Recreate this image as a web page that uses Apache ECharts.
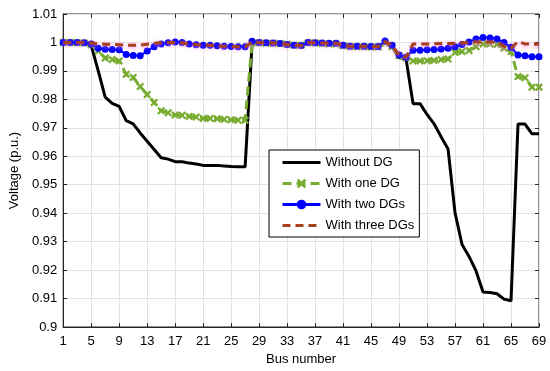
<!DOCTYPE html>
<html>
<head>
<meta charset="utf-8">
<script src="https://cdn.jsdelivr.net/npm/echarts@6/dist/echarts.min.js"></script>
<style>html,body{margin:0;padding:0;background:#fff}#c{width:550px;height:371px}</style>
</head>
<body>
<div id="c"></div>
<script>
const buses = Array.from({length: 69}, (_, i) => String(i + 1));
const yTicks = [0.9, 0.91, 0.92, 0.93, 0.94, 0.95, 0.96, 0.97, 0.98, 0.99, 1, 1.01];

const withoutDG = [
  1.0000, 1.0000, 0.9999, 0.9998, 0.9990, 0.9901, 0.9808, 0.9786, 0.9775, 0.9725,
  0.9714, 0.9682, 0.9653, 0.9624, 0.9595, 0.9590, 0.9581, 0.9581, 0.9576, 0.9573,
  0.9568, 0.9568, 0.9568, 0.9566, 0.9564, 0.9563, 0.9563, 0.9999, 0.9999, 0.9997,
  0.9997, 0.9996, 0.9994, 0.9990, 0.9990, 0.9999, 0.9998, 0.9996, 0.9995, 0.9995,
  0.9988, 0.9986, 0.9985, 0.9985, 0.9984, 0.9984, 0.9998, 0.9985, 0.9947, 0.9942,
  0.9785, 0.9785, 0.9747, 0.9714, 0.9669, 0.9626, 0.9401, 0.9290, 0.9248, 0.9197,
  0.9123, 0.9121, 0.9117, 0.9098, 0.9092, 0.9713, 0.9713, 0.9679, 0.9679
];
const withOneDG = [
  1.0000, 1.0000, 0.9999, 0.9998, 0.9992, 0.9970, 0.9945, 0.9940, 0.9935, 0.9888,
  0.9877, 0.9845, 0.9817, 0.9789, 0.9760, 0.9753, 0.9745, 0.9744, 0.9740, 0.9738,
  0.9733, 0.9733, 0.9732, 0.9730, 0.9728, 0.9727, 0.9727, 0.9999, 0.9999, 0.9997,
  0.9997, 0.9996, 0.9994, 0.9990, 0.9990, 0.9999, 0.9998, 0.9996, 0.9995, 0.9995,
  0.9988, 0.9986, 0.9985, 0.9985, 0.9984, 0.9984, 0.9998, 0.9985, 0.9953, 0.9945,
  0.9935, 0.9935, 0.9936, 0.9937, 0.9940, 0.9942, 0.9965, 0.9968, 0.9972, 0.9985,
  0.9995, 0.9995, 0.9993, 0.9980, 0.9968, 0.9880, 0.9876, 0.9843, 0.9843
];
const withTwoDGs = [
  1.0000, 1.0000, 1.0000, 0.9999, 0.9995, 0.9980, 0.9976, 0.9975, 0.9974, 0.9958,
  0.9954, 0.9953, 0.9970, 0.9985, 0.9995, 0.9999, 1.0002, 1.0000, 0.9995, 0.9992,
  0.9990, 0.9990, 0.9988, 0.9987, 0.9986, 0.9985, 0.9985, 1.0004, 1.0000, 0.9999,
  0.9998, 0.9996, 0.9993, 0.9990, 0.9989, 1.0000, 0.9999, 0.9998, 0.9997, 0.9997,
  0.9990, 0.9987, 0.9987, 0.9987, 0.9986, 0.9986, 1.0005, 0.9990, 0.9956, 0.9948,
  0.9973, 0.9973, 0.9974, 0.9975, 0.9977, 0.9980, 0.9985, 0.9993, 1.0002, 1.0012,
  1.0017, 1.0016, 1.0012, 1.0000, 0.9983, 0.9956, 0.9953, 0.9950, 0.9950
];
const withThreeDGs = [
  1.0000, 1.0000, 1.0000, 1.0000, 0.9998, 0.9995, 0.9994, 0.9993, 0.9992, 0.9990,
  0.9990, 0.9991, 0.9994, 0.9997, 0.9999, 1.0000, 1.0000, 0.9999, 0.9995, 0.9992,
  0.9990, 0.9990, 0.9988, 0.9987, 0.9986, 0.9985, 0.9985, 1.0002, 1.0000, 0.9999,
  0.9998, 0.9996, 0.9993, 0.9990, 0.9989, 1.0000, 0.9999, 0.9998, 0.9997, 0.9997,
  0.9990, 0.9987, 0.9987, 0.9987, 0.9986, 0.9986, 1.0003, 0.9990, 0.9956, 0.9948,
  0.9995, 0.9995, 0.9995, 0.9995, 0.9996, 0.9996, 0.9997, 0.9998, 1.0000, 1.0002,
  1.0002, 1.0002, 1.0000, 0.9987, 0.9980, 1.0003, 0.9995, 0.9994, 0.9994
];

const seriesNames = ['Without DG', 'With one DG', 'With two DGs', 'With three DGs'];

const axisColor = '#262626';
const fontFam = '"Liberation Sans", Arial, sans-serif';
const xMark = 'path://M0,2 L2,0 L5,3 L8,0 L10,2 L7,5 L10,8 L8,10 L5,7 L2,10 L0,8 L3,5 Z';

const chart = echarts.init(document.getElementById('c'), null, {renderer: 'canvas'});
const fmtY = v => String(parseFloat(v.toFixed(2)));

chart.setOption({
  animation: false,
  backgroundColor: '#fff',
  textStyle: {fontFamily: fontFam},
  grid: {left: 54, right: 11, top: 14, bottom: 44, show: true, borderColor: axisColor, borderWidth: 1, backgroundColor: 'transparent'},
  legend: {
    orient: 'vertical', left: 269, top: 150,
    padding: [6, 5, 5, 12],
    itemWidth: 38, itemHeight: 12, itemGap: 8,
    backgroundColor: '#fff', borderColor: '#000', borderWidth: 1,
    textStyle: {fontFamily: fontFam, fontSize: 13, color: '#000'},
    data: [
      {name: seriesNames[0], itemStyle: {opacity: 0}, lineStyle: {width: 3}},
      {name: seriesNames[1], lineStyle: {width: 3}},
      {name: seriesNames[2], lineStyle: {width: 3}},
      {name: seriesNames[3], itemStyle: {opacity: 0}, lineStyle: {width: 3}}
    ]
  },
  xAxis: [{
    type: 'category', data: buses, boundaryGap: false,
    name: 'Bus number', nameLocation: 'middle', nameGap: 24,
    nameTextStyle: {fontFamily: fontFam, fontSize: 13, color: '#000'},
    axisLine: {lineStyle: {color: axisColor, width: 1}},
    axisTick: {inside: true, length: 4, interval: 3, lineStyle: {color: axisColor}},
    axisLabel: {interval: 3, fontFamily: fontFam, fontSize: 13, color: '#000', margin: 8},
    splitLine: {show: true, interval: 3, lineStyle: {color: '#e3e3e3', width: 1}}
  }, {
    type: 'category', data: buses, boundaryGap: false, position: 'top',
    axisLine: {show: false},
    axisTick: {inside: true, length: 4, interval: 3, lineStyle: {color: axisColor}},
    axisLabel: {show: false}, splitLine: {show: false}
  }],
  yAxis: [{
    type: 'value', min: 0.9, max: 1.01, interval: 0.01,
    name: 'Voltage (p.u.)', nameLocation: 'middle', nameGap: 41,
    nameTextStyle: {fontFamily: fontFam, fontSize: 13, color: '#000'},
    axisLine: {show: true, lineStyle: {color: axisColor, width: 1}},
    axisTick: {show: true, inside: true, length: 4, lineStyle: {color: axisColor}},
    axisLabel: {formatter: fmtY, fontFamily: fontFam, fontSize: 13, color: '#000', margin: 6},
    splitLine: {show: true, lineStyle: {color: '#e3e3e3', width: 1}}
  }, {
    type: 'value', min: 0.9, max: 1.01, interval: 0.01, position: 'right',
    axisLine: {show: false},
    axisTick: {show: true, inside: true, length: 4, lineStyle: {color: axisColor}},
    axisLabel: {show: false}, splitLine: {show: false}
  }],
  series: [
    {
      name: seriesNames[0], type: 'line', data: withoutDG, showSymbol: false, symbol: 'none',
      lineStyle: {color: '#000', width: 3}, itemStyle: {color: '#000'}, z: 2
    },
    {
      name: seriesNames[1], type: 'line', data: withOneDG, symbol: xMark, symbolSize: 8,
      showSymbol: true, showAllSymbol: true,
      lineStyle: {color: '#77AC30', width: 3, type: [9, 5]}, itemStyle: {color: '#77AC30', borderWidth: 0}, z: 3
    },
    {
      name: seriesNames[2], type: 'line', data: withTwoDGs, symbol: 'circle', symbolSize: 7,
      showSymbol: true, showAllSymbol: true,
      lineStyle: {color: '#0000FF', width: 2}, itemStyle: {color: '#0000FF', borderWidth: 0}, z: 4
    },
    {
      name: seriesNames[3], type: 'line', data: withThreeDGs, showSymbol: false, symbol: 'none',
      lineStyle: {color: '#A8401E', width: 3, type: [8, 5], shadowColor: 'rgba(255,120,220,0.9)', shadowBlur: 4, shadowOffsetY: 1},
      itemStyle: {color: '#A8401E'}, z: 5
    }
  ]
});
</script>
</body>
</html>
